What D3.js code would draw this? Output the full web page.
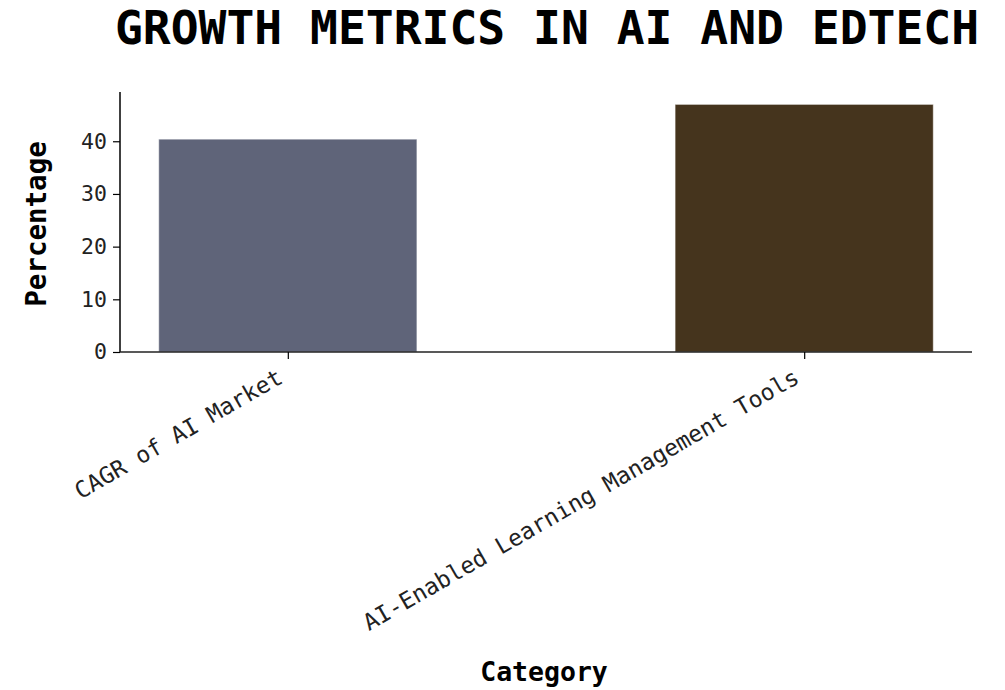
<!DOCTYPE html>
<html>
<head>
<meta charset="utf-8">
<script src="https://cdn.jsdelivr.net/npm/d3@7/dist/d3.min.js"></script>
<style>
  html, body { margin: 0; padding: 0; background: #ffffff; }
  svg { display: block; }
  text { font-family: "DejaVu Sans Mono", monospace; }
</style>
</head>
<body>
<div id="chart"></div>
<script>
// Data
const categories = ["CAGR of AI Market", "AI-Enabled Learning Management Tools"];
const values = [40.4, 47];
const barColors = ["#5f6479", "#45341d"];
const yTicks = [0, 10, 20, 30, 40];

const W = 1005, H = 690;
const margin = { left: 120, right: 33, top: 92, bottom: 338 };
const plotW = W - margin.left - margin.right;
const plotH = H - margin.top - margin.bottom;

const svg = d3.select("#chart").append("svg")
  .attr("width", W).attr("height", H);

// Category positions: bar width 0.5 with 5% padding on each side
const barWidth = 0.5;
const lo = -barWidth / 2, hi = categories.length - 1 + barWidth / 2;
const pad = (hi - lo) * 0.05;
const x = d3.scaleLinear().domain([lo - pad, hi + pad]).range([0, plotW]);
const yMax = d3.max(values) * 1.05;
const y = d3.scaleLinear().domain([0, yMax]).range([plotH, 0]);

const g = svg.append("g").attr("transform", `translate(${margin.left},${margin.top})`);

// Bars
g.selectAll("rect.bar").data(values).enter().append("rect")
  .attr("class", "bar")
  .attr("x", (d, i) => x(i - barWidth / 2))
  .attr("width", (d, i) => x(i + barWidth / 2) - x(i - barWidth / 2))
  .attr("y", d => y(d))
  .attr("height", d => y(0) - y(d))
  .attr("fill", (d, i) => barColors[i])
  .attr("stroke", "rgba(255,255,255,0.5)")
  .attr("stroke-width", 1);

// Y axis
const yAxis = g.append("g")
  .call(d3.axisLeft(y).tickValues(yTicks).tickSize(7).tickPadding(6).tickFormat(d3.format("d")));
yAxis.select(".domain").attr("stroke", "#000").attr("stroke-width", 1.5).attr("d", `M0,${plotH}V0`);
yAxis.selectAll(".tick line").attr("stroke", "#000").attr("stroke-width", 1.2);
yAxis.selectAll(".tick text")
  .attr("font-size", 21.5).attr("fill", "#222")
  .attr("font-family", "DejaVu Sans Mono, monospace");

// X axis
const xAxis = g.append("g").attr("transform", `translate(0,${plotH})`)
  .call(d3.axisBottom(x).tickValues(categories.map((c, i) => i)).tickSize(7).tickFormat(i => categories[i]));
xAxis.select(".domain").attr("stroke", "#222").attr("stroke-width", 1.5).attr("d", `M0,0H${plotW}`);
xAxis.selectAll(".tick line").attr("stroke", "#000").attr("stroke-width", 1.2);
xAxis.selectAll(".tick text")
  .attr("font-size", 23).attr("fill", "#222")
  .attr("font-family", "DejaVu Sans Mono, monospace")
  .attr("text-anchor", "end")
  .attr("dy", null)
  .attr("y", 0)
  .attr("transform", "translate(-4,30) rotate(-30)");

// Title
svg.append("text")
  .attr("x", margin.left + plotW / 2 + 1).attr("y", 44)
  .attr("text-anchor", "middle")
  .attr("font-size", 46.3).attr("font-weight", "bold").attr("fill", "#000")
  .text("GROWTH METRICS IN AI AND EDTECH");

// Axis titles
svg.append("text")
  .attr("transform", `translate(46,${margin.top + plotH / 2 + 2}) rotate(-90)`)
  .attr("text-anchor", "middle")
  .attr("font-size", 27.5).attr("font-weight", "bold").attr("fill", "#000")
  .text("Percentage");

svg.append("text")
  .attr("x", margin.left + plotW / 2 - 2).attr("y", 681)
  .attr("text-anchor", "middle")
  .attr("font-size", 26.5).attr("font-weight", "bold").attr("fill", "#000")
  .text("Category");
</script>
</body>
</html>
